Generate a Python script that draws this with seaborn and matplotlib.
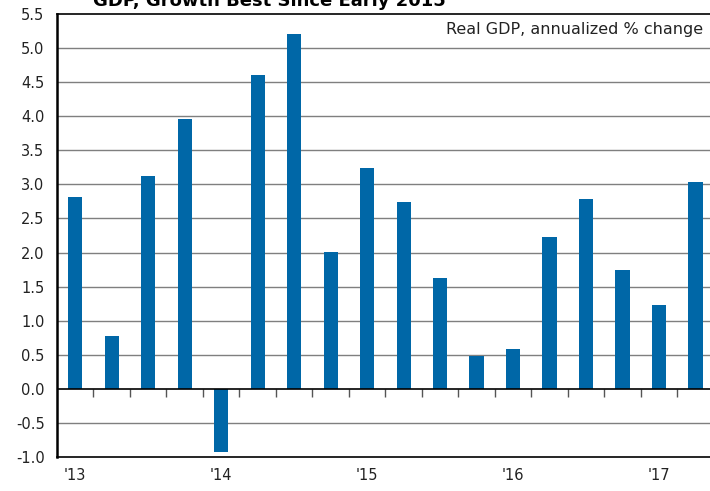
import matplotlib
matplotlib.use("Agg")
import matplotlib.pyplot as plt
import seaborn as sns
import pandas as pd

# data
quarters = ['13Q1', '13Q2', '13Q3', '13Q4', '14Q1', '14Q2', '14Q3', '14Q4',
            '15Q1', '15Q2', '15Q3', '15Q4', '16Q1', '16Q2', '16Q3', '16Q4',
            '17Q1', '17Q2']
gdp_growth = [2.82, 0.77, 3.12, 3.96, -0.92, 4.60, 5.21, 2.01,
              3.24, 2.74, 1.62, 0.48, 0.58, 2.23, 2.78, 1.75,
              1.23, 3.03]
year_labels = ["'13", "'14", "'15", "'16", "'17"]
y_ticks = [-1.0, -0.5, 0.0, 0.5, 1.0, 1.5, 2.0, 2.5, 3.0, 3.5, 4.0, 4.5, 5.0, 5.5]

df = pd.DataFrame({'quarter': quarters, 'gdp': gdp_growth})

sns.set_style("white")
plt.rcParams['font.family'] = ['DejaVu Sans']

fig = plt.figure(figsize=(7.10, 4.91), dpi=100)
ax = fig.add_axes([0.0803, 0.0692, 0.925, 0.9022])

sns.barplot(data=df, x='quarter', y='gdp', order=quarters, color='#0067A7',
            saturation=1, width=0.39, linewidth=0, ax=ax, zorder=3)

ax.set_xlim(-0.5, len(quarters) - 0.5)
ax.set_ylim(-1.0, 5.5)
ax.set_yticks(y_ticks)
ax.set_yticklabels([f"{v:.1f}" for v in y_ticks], fontsize=10.5, color='#222222')
ax.set_xlabel('')
ax.set_ylabel('')

# horizontal grid
for v in y_ticks[1:-1]:
    ax.axhline(v, color='black' if v == 0 else '#7f7f7f',
               lw=1.2 if v == 0 else 1.0, zorder=4 if v == 0 else 1)

for side in ['top', 'bottom', 'left']:
    ax.spines[side].set_color('black')
    ax.spines[side].set_linewidth(1.2)
ax.spines['left'].set_linewidth(1.8)
ax.spines['right'].set_visible(False)

ax.tick_params(axis='y', length=6, width=1, color='#555555', pad=3)

# year labels on the main x axis
year_pos = [quarters.index(f"{lbl[1:]}Q1") for lbl in year_labels]
ax.set_xticks(year_pos)
ax.set_xticklabels(year_labels, fontsize=10.5, color='#222222')
ax.tick_params(axis='x', length=0, pad=8)

# quarter separator ticks along the zero line
zero_frac = (0 - (-1.0)) / (5.5 - (-1.0))
sec = ax.secondary_xaxis(zero_frac)
sec.set_xticks([i + 0.5 for i in range(len(quarters) - 1)])
sec.set_xticklabels([])
sec.tick_params(axis='x', length=6, width=1, color='#555555', direction='out')
sec.spines['bottom'].set_visible(False)

ax.text(0.99, 0.939, 'Real GDP, annualized % change', transform=fig.transFigure,
        ha='right', va='center', fontsize=11.5, color='#222222')

fig.text(0.379, 0.988, 'GDP, Growth Best Since Early 2015', ha='center',
         va='baseline', fontsize=13, fontweight='bold', color='black')

fig.savefig('out.png', dpi=100)
